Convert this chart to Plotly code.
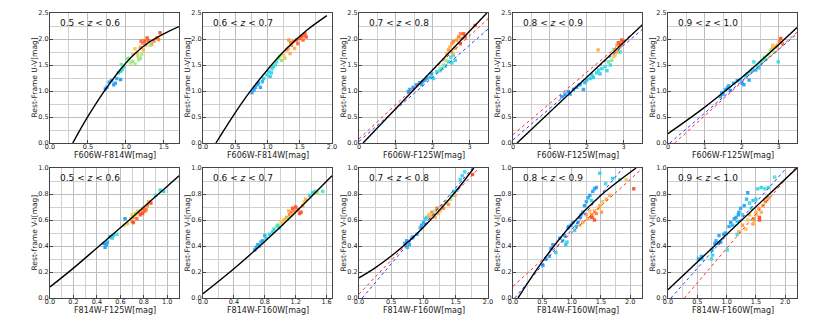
import plotly.graph_objects as go

# ---------------- data ----------------
Z_LABELS = ["0.5 < <i>z</i> < 0.6", "0.6 < <i>z</i> < 0.7", "0.7 < <i>z</i> < 0.8",
            "0.8 < <i>z</i> < 0.9", "0.9 < <i>z</i> < 1.0"] * 2
X_TITLES = ["F606W-F814W[mag]", "F606W-F814W[mag]", "F606W-F125W[mag]", "F606W-F125W[mag]",
            "F606W-F125W[mag]", "F814W-F125W[mag]", "F814W-F160W[mag]", "F814W-F160W[mag]",
            "F814W-F160W[mag]", "F814W-F160W[mag]"]
Y_TITLES = ["Rest-Frame U-V[mag]"] * 5 + ["Rest-frame V-I[mag]"] + ["Rest-Frame V-I[mag]"] * 4
X_MAX = [1.7, 2.0, 3.5, 3.5, 3.5, 1.1, 1.67, 2.0, 2.2, 2.2]
X_DTICK = [0.5, 0.5, 1, 1, 1, 0.2, 0.4, 0.5, 0.5, 0.5]
Y_MAX = [2.5] * 5 + [1.0] * 5
Y_DTICK = [0.5] * 5 + [0.2] * 5

# panel 1
P1_X = [0.73,0.75,0.78,0.81,0.84,0.86,0.93,0.88,0.93,0.95,0.90,0.97,0.94,1.01,1.04,1.06,1.09,1.12,1.16,1.19,
        1.21,1.12,1.15,1.09,1.19,1.22,1.25,1.28,1.26,1.30,1.34,1.37,1.41,1.43,1.45,1.20,1.23,1.32,1.17]
P1_Y = [1.04,1.07,1.17,1.20,1.12,1.15,1.22,1.24,1.38,1.41,1.35,1.46,1.51,1.62,1.63,1.54,1.57,1.52,1.67,1.63,
        1.71,1.81,1.73,1.70,1.84,1.92,1.96,2.02,1.89,1.97,1.90,1.96,2.02,1.99,2.12,1.96,1.79,1.88,1.60]
P1_C = [0.05,0.05,0.1,0.05,0.1,0.1,0.05,0.15,0.25,0.3,0.25,0.4,0.5,0.55,0.5,0.6,0.55,0.6,0.6,0.55,
        0.6,0.75,0.8,0.75,0.85,0.9,1.0,1.0,0.9,0.95,0.85,0.9,0.95,0.9,1.0,0.95,0.8,0.6,0.6]
# panel 2
P2_X = [0.76,0.79,0.81,0.84,0.86,0.89,0.92,0.94,0.99,1.02,1.04,1.07,1.09,1.12,1.14,1.06,1.17,1.19,1.22,1.25,
        1.27,1.30,1.32,1.35,1.37,1.40,1.42,1.45,1.47,1.50,1.53,1.55,1.58,1.60,1.57,1.36,1.33]
P2_Y = [0.97,1.02,1.07,1.12,1.15,1.07,1.18,1.24,1.31,1.37,1.28,1.43,1.47,1.50,1.56,1.35,1.63,1.67,1.59,1.69,
        1.63,1.79,1.82,1.72,1.88,1.95,1.82,1.98,1.91,2.01,2.05,1.98,2.10,2.04,2.07,1.93,1.98]
P2_C = [0.05,0.1,0.05,0.15,0.1,0.1,0.2,0.25,0.3,0.3,0.25,0.35,0.3,0.4,0.45,0.3,0.5,0.6,0.55,0.75,
        0.7,0.85,0.85,0.8,0.9,0.9,0.8,1.0,0.95,1.0,1.0,0.95,1.0,1.0,0.95,0.9,0.85]
# panel 3
P3_X = [1.34,1.38,1.47,1.56,1.65,1.70,1.79,1.84,1.93,1.97,1.73,2.02,2.11,2.20,2.25,2.34,2.43,2.52,2.56,2.61,
        2.49,2.20,2.29,2.36,2.38,2.43,2.47,2.52,2.56,2.65,2.70,2.75,2.79,2.61,2.55,2.84,2.88,2.75,3.15]
P3_Y = [0.99,1.03,1.07,1.12,1.16,1.12,1.21,1.24,1.26,1.33,1.18,1.24,1.37,1.39,1.43,1.48,1.56,1.54,1.69,1.59,
        1.65,1.43,1.50,1.59,1.72,1.79,1.85,1.91,1.95,1.98,2.04,2.10,2.01,1.82,1.72,2.10,2.04,1.91,2.26]
P3_C = [0.05,0.1,0.05,0.1,0.1,0.15,0.1,0.15,0.2,0.15,0.1,0.3,0.3,0.35,0.3,0.3,0.35,0.3,0.3,0.3,
        0.35,0.55,0.55,0.6,0.8,0.85,0.8,0.85,0.9,0.85,0.9,0.9,0.85,0.8,0.75,1.0,1.0,1.0,1.0]
# panel 4
P4_X = [1.32,1.41,1.50,1.55,1.64,1.73,1.82,1.91,1.95,2.00,2.09,2.14,2.18,2.27,2.32,2.36,2.41,2.50,2.55,2.64,
        2.59,2.68,2.73,2.77,2.82,2.86,2.91,2.95,3.00,2.73,2.82,2.91,2.31,2.95,2.86]
P4_Y = [0.89,0.94,0.99,0.94,1.03,1.07,1.12,1.03,1.16,1.21,1.24,1.31,1.26,1.35,1.40,1.33,1.43,1.47,1.39,1.50,
        1.56,1.59,1.66,1.69,1.75,1.79,1.85,1.91,1.95,1.80,1.88,1.75,1.79,1.98,1.93]
P4_C = [0.05,0.1,0.05,0.1,0.1,0.15,0.1,0.1,0.2,0.2,0.25,0.3,0.25,0.3,0.35,0.25,0.3,0.35,0.3,0.35,
        0.5,0.55,0.7,0.75,0.85,0.8,0.85,0.9,0.95,0.6,0.85,0.35,0.8,1.0,1.0]
# panel 5
P5_X = [1.42,1.49,1.46,1.56,1.62,1.69,1.65,1.78,1.88,1.97,2.01,2.06,2.10,2.15,2.20,2.24,2.29,2.33,2.38,2.42,
        2.47,2.52,2.56,2.61,2.65,2.70,2.74,2.79,2.84,2.88,2.93,2.97,3.02,3.06,2.99,3.11,2.84]
P5_Y = [0.89,0.94,0.97,1.03,1.07,1.01,1.10,1.15,1.20,1.22,1.15,1.12,1.29,1.33,1.21,1.37,1.42,1.56,1.40,1.48,
        1.44,1.53,1.59,1.65,1.61,1.69,1.72,1.79,1.82,1.75,1.85,1.88,1.95,2.01,1.56,1.91,1.88]
P5_C = [0.1,0.05,0.15,0.1,0.15,0.05,0.2,0.15,0.1,0.2,0.05,0.1,0.25,0.3,0.1,0.3,0.3,0.35,0.25,0.3,
        0.3,0.35,0.5,0.55,0.4,0.6,0.6,0.55,0.8,0.6,0.85,0.8,0.9,1.0,0.35,0.9,0.75]
# panel 6
P6_X = [0.46,0.48,0.47,0.49,0.51,0.53,0.54,0.57,0.64,0.63,0.66,0.69,0.70,0.71,0.70,0.73,0.74,0.76,0.77,0.79,
        0.80,0.81,0.83,0.84,0.86,0.79,0.82,0.90,0.94,0.97,0.71,0.73,0.75]
P6_Y = [0.42,0.41,0.39,0.43,0.47,0.46,0.48,0.49,0.61,0.56,0.57,0.61,0.64,0.62,0.59,0.65,0.61,0.66,0.64,0.67,
        0.69,0.67,0.71,0.74,0.73,0.65,0.68,0.79,0.83,0.82,0.58,0.64,0.67]
P6_C = [0.05,0.1,0.05,0.15,0.05,0.3,0.3,0.35,0.05,0.65,0.75,0.6,0.75,0.85,0.9,0.8,0.95,0.9,1.0,0.85,
        0.95,1.0,0.9,0.8,1.0,1.0,0.9,0.35,0.35,0.3,1.0,0.6,0.7]
# panel 7
P7_X = [0.67,0.69,0.71,0.73,0.75,0.77,0.80,0.82,0.86,0.90,0.92,0.95,0.97,0.99,1.01,1.03,1.05,1.08,1.10,1.12,
        1.14,1.16,1.18,1.20,1.23,1.25,1.27,1.29,1.31,1.33,1.38,1.42,1.45,1.48,1.55,1.15,1.11]
P7_Y = [0.37,0.39,0.41,0.40,0.43,0.44,0.48,0.46,0.49,0.51,0.53,0.55,0.56,0.54,0.59,0.57,0.60,0.62,0.61,0.64,
        0.66,0.69,0.67,0.70,0.68,0.65,0.66,0.71,0.74,0.76,0.79,0.81,0.82,0.81,0.82,0.64,0.67]
P7_C = [0.1,0.05,0.15,0.1,0.2,0.05,0.15,0.3,0.3,0.35,0.3,0.6,0.35,0.3,0.75,0.7,0.8,0.85,0.6,0.9,
        0.95,1.0,0.9,1.0,0.95,1.0,1.0,0.85,0.75,0.8,0.35,0.3,0.35,0.6,0.45,0.75,0.8]
# panel 8
P8_X = [0.71,0.74,0.75,0.78,0.82,0.84,0.90,0.95,0.97,1.00,1.03,1.05,1.08,1.10,1.13,1.16,1.18,1.21,1.23,1.26,
        1.29,1.31,1.34,1.36,1.39,1.42,1.44,1.47,1.49,1.52,1.57,1.60,1.64,1.76,1.18,1.13]
P8_Y = [0.42,0.44,0.39,0.41,0.46,0.47,0.49,0.54,0.56,0.58,0.61,0.62,0.64,0.62,0.66,0.64,0.67,0.69,0.65,0.67,
        0.71,0.69,0.73,0.74,0.72,0.76,0.79,0.82,0.79,0.83,0.91,0.94,0.97,0.95,0.62,0.64]
P8_C = [0.1,0.05,0.2,0.15,0.05,0.1,0.15,0.2,0.1,0.15,0.3,0.35,0.75,0.8,0.9,0.85,0.6,0.95,0.8,0.7,
        0.85,0.9,0.55,0.8,0.85,0.6,0.35,0.3,0.8,0.35,0.3,0.3,0.35,1.0,0.8,0.7]
# panel 9
P9_X = [0.51,0.56,0.62,0.65,0.68,0.73,0.80,0.85,0.88,0.90,0.92,0.94,0.95,0.99,1.02,1.05,1.08,1.11,1.14,1.16,
        1.19,1.22,1.25,1.28,1.31,1.34,1.36,1.39,1.42,1.48,1.58,1.82,1.70,1.14,1.19,1.25,1.28,1.31,1.34,1.36,
        1.39,1.42,1.45,1.48,1.51,1.53,1.59,1.65,1.93,2.06,1.34,1.39]
P9_Y = [0.25,0.30,0.32,0.38,0.41,0.35,0.46,0.44,0.48,0.41,0.43,0.54,0.55,0.56,0.58,0.52,0.55,0.58,0.62,0.64,
        0.66,0.71,0.74,0.77,0.79,0.75,0.82,0.84,0.85,0.96,0.88,0.91,0.92,0.56,0.58,0.64,0.61,0.67,0.64,0.62,
        0.67,0.65,0.69,0.71,0.66,0.74,0.76,0.79,0.91,0.84,0.62,0.60]
P9_C = [0.1,0.15,0.2,0.05,0.1,0.25,0.05,0.3,0.1,0.25,0.3,0.05,0.1,0.05,0.15,0.3,0.2,0.1,0.05,0.15,
        0.1,0.05,0.15,0.1,0.05,0.3,0.1,0.15,0.05,0.3,0.35,0.45,0.3,0.75,0.8,0.85,0.8,0.75,0.9,0.85,
        0.8,0.9,0.75,0.8,0.85,0.7,0.8,0.8,0.7,1.0,1.0,1.0]
# panel 10
P10_X = [0.52,0.57,0.58,0.74,0.76,0.75,0.80,0.82,0.86,0.90,1.01,0.87,0.95,0.98,1.04,1.07,1.10,1.13,1.16,1.18,
         1.20,1.21,1.24,1.27,1.30,1.34,1.39,1.42,1.45,1.50,1.53,1.59,1.65,1.71,1.82,1.36,1.18,1.21,1.27,1.36,
         1.39,1.45,1.46,1.50,1.51,1.55,1.56,1.59,1.62,1.66,1.71,1.69,1.47,1.56,1.33]
P10_Y = [0.30,0.32,0.30,0.30,0.33,0.37,0.42,0.44,0.42,0.43,0.37,0.48,0.49,0.50,0.55,0.58,0.56,0.61,0.62,0.59,
         0.64,0.66,0.69,0.64,0.71,0.76,0.73,0.69,0.75,0.76,0.84,0.85,0.84,0.85,0.93,0.81,0.49,0.51,0.56,0.60,
         0.64,0.57,0.61,0.66,0.64,0.69,0.62,0.66,0.71,0.74,0.77,0.76,0.58,0.60,0.53]
P10_C = [0.05,0.15,0.3,0.35,0.3,0.1,0.05,0.15,0.1,0.05,0.35,0.1,0.05,0.15,0.1,0.05,0.2,0.1,0.15,0.3,
         0.05,0.1,0.15,0.3,0.1,0.2,0.3,0.35,0.25,0.3,0.35,0.3,0.4,0.35,0.45,0.05,0.35,0.8,0.85,0.75,
         0.8,0.85,0.9,0.8,0.75,0.85,1.0,0.8,0.85,0.9,0.85,0.8,0.75,1.0,0.75]

# fitted relations (black) and linear fits (red / blue dotted)
FIT_X = [[0.30,0.50,0.75,1.00,1.25,1.50,1.70],
         [0.20,0.45,0.70,1.00,1.30,1.60,1.92],
         [0.11,3.47],
         [0.11,3.52],
         [0.0,0.5,1.0,1.5,2.0,2.5,3.0,3.5],
         [0.0,0.2,0.4,0.6,0.8,1.0,1.1],
         [0.0,0.4,0.8,1.2,1.67],
         [0.0,0.25,0.5,0.75,1.0,1.25,1.5,1.78],
         [0.085,0.5,1.0,1.5,2.1],
         [0.0,2.2]]
FIT_Y = [[0.0,0.51,1.07,1.54,1.88,2.10,2.24],
         [0.0,0.49,0.94,1.41,1.82,2.16,2.45],
         [0.0,2.50],
         [0.0,2.28],
         [0.18,0.43,0.69,0.97,1.26,1.57,1.89,2.22],
         [0.085,0.23,0.385,0.54,0.70,0.86,0.94],
         [0.033,0.225,0.435,0.66,0.94],
         [0.155,0.232,0.323,0.427,0.545,0.676,0.82,1.0],
         [0.0,0.28,0.565,0.79,1.0],
         [0.064,1.0]]
RED_X = [None, None, [0.0,3.5], [0.0,3.5], [0.18,3.5], None, None, [0.0,1.86], [0.0,2.2], [0.28,2.17]]
RED_Y = [None, None, [0.08,2.39], [0.16,2.26], [0.0,2.13], None, None, [0.03,1.0], [0.09,0.995], [0.0,1.0]]
BLUE_X = [None, None, [0.0,3.5], [0.0,3.5], [0.05,3.5], None, None, [0.05,1.76], [0.03,1.875], [0.05,2.02]]
BLUE_Y = [None, None, [0.03,2.19], [0.06,2.18], [0.0,2.10], None, None, [0.0,1.0], [0.0,1.0], [0.0,1.0]]

PX = [P1_X, P2_X, P3_X, P4_X, P5_X, P6_X, P7_X, P8_X, P9_X, P10_X]
PY = [P1_Y, P2_Y, P3_Y, P4_Y, P5_Y, P6_Y, P7_Y, P8_Y, P9_Y, P10_Y]
PC = [P1_C, P2_C, P3_C, P4_C, P5_C, P6_C, P7_C, P8_C, P9_C, P10_C]

# ---------------- figure ----------------
OFF = 8                      # default page margin of the html body
W, H = 830 - OFF, 317 - OFF  # figure size so that it fits in the window
COLS_PX = [(50, 179), (203, 332), (359, 488), (513, 642), (668, 797)]   # window pixels
ROWS_PX = [(13, 143), (168, 298)]
CSCALE = [[0.0, '#1f8fff'], [0.15, '#1eaaf5'], [0.3, '#25d5e8'], [0.45, '#45e8c0'],
          [0.6, '#a8e870'], [0.75, '#ffc048'], [0.88, '#ff8a35'], [1.0, '#ff4a22']]
FONT = "DejaVu Sans"

fig = go.Figure()
layout = dict(width=W, height=H, autosize=False, margin=dict(l=0, r=0, t=0, b=0, pad=0),
              paper_bgcolor='white', plot_bgcolor='white', showlegend=False, template='none',
              font=dict(family=FONT, color='#222'))
annotations = []
for i in range(10):
    n = '' if i == 0 else str(i + 1)
    col, row = i % 5, i // 5
    x0, x1 = COLS_PX[col]
    t, b = ROWS_PX[row]
    xa, ya = 'x' + n, 'y' + n
    common = dict(showline=True, linecolor='#444', linewidth=1, mirror=True,
                  ticks='inside', ticklen=3, tickcolor='#444', tickfont=dict(size=6.5, family=FONT, color='#222'),
                  showgrid=True, gridcolor='#bdbdbd', gridwidth=1.4,
                  zeroline=False, fixedrange=True, automargin=False, tick0=0)
    layout['xaxis' + n] = dict(
        domain=[(x0 - OFF) / W, (x1 - OFF) / W], anchor=ya, range=[0, X_MAX[i]], dtick=X_DTICK[i],
        tickformat='.0f' if X_DTICK[i] == 1 else '.1f', ticklabelstandoff=-3,
        minor=dict(dtick=X_DTICK[i] / 2, showgrid=True, gridcolor='#d0d0d0', gridwidth=1.4),
        **common)
    layout['yaxis' + n] = dict(
        domain=[1 - (b - OFF) / H, 1 - (t - OFF) / H], anchor=xa, range=[0, Y_MAX[i]], dtick=Y_DTICK[i],
        tickformat='.1f', ticklabelstandoff=-1,
        minor=dict(dtick=Y_DTICK[i] / 2, showgrid=True, gridcolor='#d0d0d0', gridwidth=1.4),
        **common)

    fig.add_trace(go.Scatter(x=PX[i], y=PY[i], mode='markers', xaxis=xa, yaxis=ya,
                             marker=dict(size=3.4, symbol='square', color=PC[i], colorscale=CSCALE,
                                         cmin=0, cmax=1, opacity=0.9, line=dict(width=0)),
                             hoverinfo='skip'))
    if RED_X[i] is not None:
        fig.add_trace(go.Scatter(x=RED_X[i], y=RED_Y[i], mode='lines', xaxis=xa, yaxis=ya,
                                 line=dict(color='#ff2a2a', width=1, dash='dot'), hoverinfo='skip'))
        fig.add_trace(go.Scatter(x=BLUE_X[i], y=BLUE_Y[i], mode='lines', xaxis=xa, yaxis=ya,
                                 line=dict(color='#2a3cff', width=1, dash='dot'), hoverinfo='skip'))
    fig.add_trace(go.Scatter(x=FIT_X[i], y=FIT_Y[i], mode='lines', xaxis=xa, yaxis=ya,
                             line=dict(color='black', width=1.4, shape='spline'),
                             cliponaxis=True, hoverinfo='skip'))
    annotations.append(dict(text=Z_LABELS[i], xref=xa + ' domain', yref=ya + ' domain',
                            x=0.065, y=0.92, xanchor='left', yanchor='middle', showarrow=False,
                            font=dict(size=9, family=FONT, color='#111')))
    annotations.append(dict(text=X_TITLES[i], xref=xa + ' domain', yref=ya + ' domain',
                            x=0.5, y=0, yshift=-12.5, xanchor='center', yanchor='middle', showarrow=False,
                            font=dict(size=8, family=FONT, color='#222')))
    annotations.append(dict(text=Y_TITLES[i], xref=xa + ' domain', yref=ya + ' domain',
                            x=0, y=0.5, xshift=-16.5, xanchor='center', yanchor='middle', showarrow=False,
                            textangle=-90, font=dict(size=7.5, family=FONT, color='#222')))
layout['annotations'] = annotations
fig.update_layout(**layout)
fig.write_html("out.html")
